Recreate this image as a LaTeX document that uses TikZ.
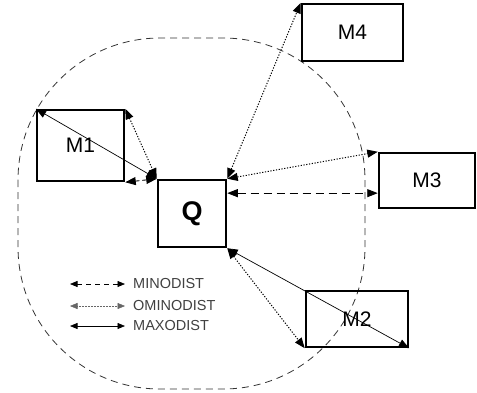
\documentclass[tikz,border=0pt]{standalone}
\usepackage{fontspec}
\setmainfont{Liberation Sans}
\usetikzlibrary{arrows.meta}

\begin{document}
\begin{tikzpicture}[x=1pt, y=-1pt,
    box/.style={draw, line width=2.5pt, inner sep=0pt, font=\fontsize{21}{24}\selectfont},
    tips/.style={{Triangle[length=10.5pt,width=8pt]}-{Triangle[length=10.5pt,width=8pt]}},
    minod/.style={tips, line width=0.9pt, dash pattern=on 8pt off 5pt},
    ominod/.style={tips, line width=1pt, dash pattern=on 1.2pt off 1.6pt},
    maxod/.style={tips, line width=0.7pt},
    legtip/.style={{Triangle[length=7.5pt,width=6pt]}-{Triangle[length=7.5pt,width=6pt]}},
    legtext/.style={anchor=west, inner sep=0pt, text=black!75, font=\fontsize{14.5}{16}\selectfont}]
    \useasboundingbox (0,0) rectangle (477,392);
    % search region
    \draw[line width=0.8pt, dash pattern=on 7pt off 5pt, rounded corners=142pt, black!80] (18,38) rectangle (365,389);
    % query and objects
    \node[box, minimum width=68pt, minimum height=67pt, font=\fontsize{27}{30}\selectfont\bfseries] (Q) at (192,213.5) {Q};
    \node[box, minimum width=87pt, minimum height=71pt] (M1) at (80.5,145.5) {M1};
    \node[box, minimum width=102pt, minimum height=56pt] (M2) at (357,319) {M2};
    \node[box, minimum width=96pt, minimum height=55pt] (M3) at (427,180.5) {M3};
    \node[box, minimum width=101pt, minimum height=57pt] (M4) at (352.5,32.5) {M4};
    % distances
    \draw[maxod] (M1.north west) -- (Q.north west);
    \draw[ominod] (M1.north east) -- (Q.north west);
    \draw[minod, dash pattern=on 4pt off 3pt] (M1.south east) -- (Q.north west);
    \draw[ominod] (Q.north east) -- (M4.north west);
    \draw[ominod] (Q.north east) -- (M3.north west);
    \draw[minod] (Q.30) -- (Q.30 -| M3.west);
    \draw[maxod] (Q.south east) -- (M2.south east);
    \draw[ominod] (Q.south east) -- (M2.south west);
    % legend
    \coordinate (la1) at (70,284);
    \coordinate (lb1) at (125,284);
    \coordinate (la2) at (70,306);
    \coordinate (lb2) at (125,306);
    \coordinate (la3) at (70,326);
    \coordinate (lb3) at (125,326);
    \draw[legtip, line width=0.7pt, dash pattern=on 5pt off 4pt] (la1) -- (lb1);
    \draw[legtip, line width=0.5pt, densely dotted, black!60] (la2) -- (lb2);
    \draw[legtip, line width=0.7pt] (la3) -- (lb3);
    \node[legtext] (t1) at (133,284) {MINODIST};
    \node[legtext] (t2) at (133,306) {OMINODIST};
    \node[legtext] (t3) at (133,326) {MAXODIST};
\end{tikzpicture}
\end{document}
